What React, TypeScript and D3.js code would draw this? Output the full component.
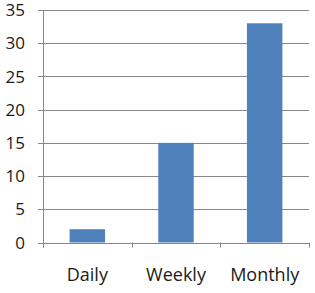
import React from "react";
import * as d3 from "d3";

const categories = ["Daily", "Weekly", "Monthly"];
const values = [2, 15, 33];
const yTicks = [0, 5, 10, 15, 20, 25, 30, 35];

const W = 315;
const H = 293;
const left = 43;
const right = 309;
const top = 10;
const bottom = 242.5;

export default function App() {
  const x = d3.scaleBand<string>().domain(categories).range([left, right]).padding(0);
  const y = d3.scaleLinear().domain([0, 35]).range([bottom, top]);
  const bw = x.bandwidth();
  const barW = bw * 0.4;
  const font = "'Open Sans', 'Noto Sans', sans-serif";
  const xEdges = [...categories.map((c) => x(c) as number), right];
  return (
    <svg
      width={W}
      height={H}
      style={{ position: "absolute", left: 0, top: 0, background: "#fff" }}
    >
      {yTicks.map((t) => (
        <g key={t}>
          <line
            x1={left - 5}
            x2={right}
            y1={Math.round(y(t)) + 0.5}
            y2={Math.round(y(t)) + 0.5}
            stroke="#878787"
            strokeWidth={1}
          />
          <text
            x={25}
            y={y(t)}
            dy="0.36em"
            textAnchor="end"
            fontFamily={font}
            fontSize={17}
            fill="#1a1a1a"
          >
            {t}
          </text>
        </g>
      ))}
      <line x1={left + 0.5} x2={left + 0.5} y1={top} y2={bottom + 5} stroke="#878787" />
      {xEdges.map((e, i) => (
        <line
          key={i}
          x1={Math.round(e) + 0.5}
          x2={Math.round(e) + 0.5}
          y1={bottom}
          y2={bottom + 5}
          stroke="#878787"
        />
      ))}
      {categories.map((c, i) => (
        <rect
          key={c}
          x={(x(c) as number) + (bw - barW) / 2}
          y={y(values[i])}
          width={barW}
          height={y(0) - y(values[i])}
          fill="#4F81BD"
        />
      ))}
      {categories.map((c) => (
        <text
          key={c}
          x={(x(c) as number) + bw / 2}
          y={281}
          textAnchor="middle"
          fontFamily={font}
          fontSize={18}
          fill="#1a1a1a"
        >
          {c}
        </text>
      ))}
    </svg>
  );
}
